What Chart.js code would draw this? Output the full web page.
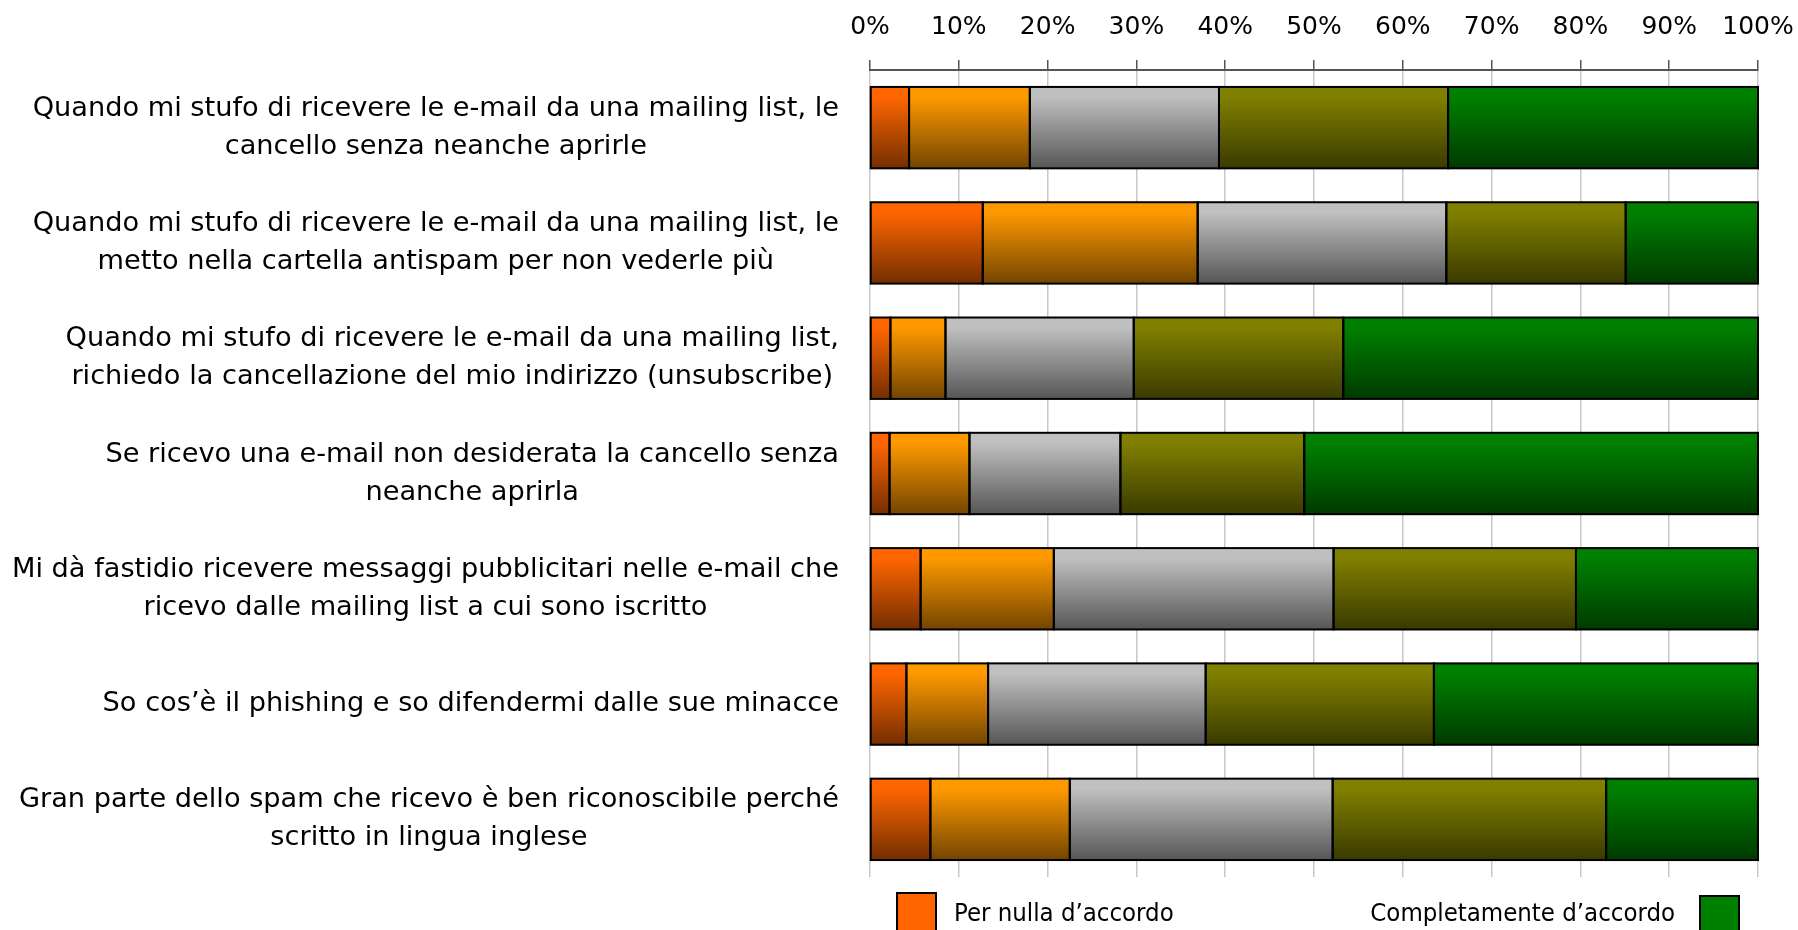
<!DOCTYPE html>
<html>
<head>
<meta charset="utf-8">
<script src="https://cdn.jsdelivr.net/npm/chart.js@4/dist/chart.umd.min.js"></script>
<style>
  html, body { margin: 0; padding: 0; background: #ffffff; }
  canvas { display: block; }
</style>
</head>
<body>
<canvas id="chart" width="1798" height="930"></canvas>
<script>
// Survey statements (one entry per bar, each line of the label as an item)
const categories = [
  ["Quando mi stufo di ricevere le e-mail da una mailing list, le", "cancello senza neanche aprirle"],
  ["Quando mi stufo di ricevere le e-mail da una mailing list, le", "metto nella cartella antispam per non vederle più"],
  ["Quando mi stufo di ricevere le e-mail da una mailing list,", "richiedo la cancellazione del mio indirizzo (unsubscribe)"],
  ["Se ricevo una e-mail non desiderata la cancello senza", "neanche aprirla"],
  ["Mi dà fastidio ricevere messaggi pubblicitari nelle e-mail che", "ricevo dalle mailing list a cui sono iscritto"],
  ["So cos’è il phishing e so difendermi dalle sue minacce"],
  ["Gran parte dello spam che ricevo è ben riconoscibile perché", "scritto in lingua inglese"]
];

// Share of answers (%) on the 1–5 agreement scale
const perNulla      = [4.4, 12.7, 2.3, 2.2, 5.7, 4.1, 6.8];
const livello2      = [13.6, 24.2, 6.2, 9.0, 15.0, 9.2, 15.7];
const livello3      = [21.3, 28.0, 21.2, 17.0, 31.5, 24.5, 29.6];
const livello4      = [25.8, 20.2, 23.6, 20.7, 27.3, 25.7, 30.8];
const completamente = [34.9, 14.9, 46.7, 51.1, 20.5, 36.5, 17.1];

const seriesLabels = ["Per nulla d’accordo", "2", "3", "4", "Completamente d’accordo"];
const seriesColors = ["#FF6600", "#FF9900", "#C0C0C0", "#808000", "#008000"];
const tickValues = [0, 10, 20, 30, 40, 50, 60, 70, 80, 90, 100];

const FONT_WIDE = '"DejaVu Sans", Verdana, sans-serif';
const FONT_NARROW = '"DejaVu Sans Condensed", "DejaVu Sans", sans-serif';
const CAT_PCT = 0.706;

function shade(hex, f) {
  const n = parseInt(hex.slice(1), 16);
  const r = Math.round(((n >> 16) & 255) * f);
  const g = Math.round(((n >> 8) & 255) * f);
  const b = Math.round((n & 255) * f);
  return `rgb(${r},${g},${b})`;
}

// vertical gradient for each bar, from the base colour down to a darker tone
function barGradient(color) {
  return (ctx) => {
    const chart = ctx.chart;
    const y = chart.scales && chart.scales.y;
    if (ctx.type !== 'data' || !y || !chart.chartArea) return color;
    const center = y.getPixelForValue(ctx.dataIndex);
    const half = (y.height / categories.length) * CAT_PCT / 2;
    if (!isFinite(center) || !isFinite(half) || half <= 0) return color;
    const g = chart.ctx.createLinearGradient(0, center - half, 0, center + half);
    g.addColorStop(0, color);
    g.addColorStop(0.12, color);
    g.addColorStop(1, shade(color, 0.45));
    return g;
  };
}

const seriesData = [perNulla, livello2, livello3, livello4, completamente];

// black outline around every bar segment
const barOutline = {
  id: 'barOutline',
  afterDatasetsDraw(chart) {
    const ctx = chart.ctx;
    ctx.save();
    ctx.strokeStyle = '#000';
    ctx.lineWidth = 2;
    chart.data.datasets.forEach((ds, i) => {
      chart.getDatasetMeta(i).data.forEach(el => {
        const { x, y, base, height } = el.getProps(['x', 'y', 'base', 'height'], true);
        const left = Math.min(x, base), w = Math.abs(x - base);
        ctx.strokeRect(left, y - height / 2, w, height);
      });
    });
    ctx.restore();
  }
};

// statement labels: each block right-aligned to the plot, lines centred within it
const statementLabels = {
  id: 'statementLabels',
  afterDraw(chart) {
    const ctx = chart.ctx;
    const y = chart.scales.y;
    const lineH = 38;
    const right = chart.chartArea.left - 31;
    ctx.save();
    ctx.font = `27.2px ${FONT_WIDE}`;
    ctx.fillStyle = '#000';
    ctx.textAlign = 'center';
    ctx.textBaseline = 'middle';
    categories.forEach((lines, i) => {
      const w = Math.max(...lines.map(l => ctx.measureText(l).width));
      const cx = right - w / 2;
      const cy = y.getPixelForValue(i);
      lines.forEach((l, k) => ctx.fillText(l, cx, cy + (k - (lines.length - 1) / 2) * lineH));
    });
    ctx.restore();
  }
};

// legend: first category at the left end, last category at the right end
const endLegend = {
  id: 'endLegend',
  afterDraw(chart) {
    const ctx = chart.ctx;
    const area = chart.chartArea;
    const ds = chart.data.datasets;
    const first = ds[0], last = ds[ds.length - 1];
    const box = 39;
    ctx.save();
    ctx.font = `25.5px ${FONT_NARROW}`;
    ctx.textBaseline = 'middle';
    ctx.lineWidth = 2;
    ctx.strokeStyle = '#000';

    const lx = area.left + 27, ly = area.bottom + 16;
    ctx.fillStyle = first.legendColor;
    ctx.fillRect(lx, ly, box, box);
    ctx.strokeRect(lx, ly, box, box);
    ctx.fillStyle = '#000';
    ctx.textAlign = 'left';
    ctx.fillText(first.label, lx + box + 18, area.bottom + 37);

    const rx = area.right - 19 - box, ry = area.bottom + 19;
    ctx.fillStyle = last.legendColor;
    ctx.fillRect(rx, ry, box, box);
    ctx.strokeRect(rx, ry, box, box);
    ctx.fillStyle = '#000';
    ctx.textAlign = 'right';
    ctx.fillText(last.label, rx - 25, area.bottom + 37);
    ctx.restore();
  }
};

new Chart(document.getElementById('chart'), {
  type: 'bar',
  data: {
    labels: categories,
    datasets: seriesData.map((d, i) => ({
      label: seriesLabels[i],
      data: d,
      legendColor: seriesColors[i],
      backgroundColor: barGradient(seriesColors[i]),
      borderWidth: 0,
      barPercentage: 1,
      categoryPercentage: CAT_PCT
    }))
  },
  options: {
    indexAxis: 'y',
    responsive: false,
    animation: false,
    devicePixelRatio: 1,
    layout: { padding: { left: 0, right: 40, top: 0, bottom: 53 } },
    plugins: { legend: { display: false }, tooltip: { enabled: false } },
    scales: {
      x: {
        position: 'top',
        stacked: true,
        min: 0,
        max: 100,
        afterBuildTicks(scale) { scale.ticks = tickValues.map(v => ({ value: v })); },
        ticks: {
          callback: v => v + '%',
          color: '#000',
          font: { family: FONT_WIDE, size: 25 },
          padding: 18,
          maxRotation: 0,
          autoSkip: false
        },
        grid: { color: '#c8c8c8', lineWidth: 1.5, tickColor: '#555', tickLength: 10, tickWidth: 1.5 },
        border: { color: '#555', width: 2 },
        afterFit(scale) {
          scale.height = 70;
          scale.paddingLeft = 0;
          scale.paddingRight = 0;
        }
      },
      y: {
        stacked: true,
        ticks: { display: false },
        grid: { display: false },
        border: { display: false },
        afterFit(scale) { scale.width = 870; }
      }
    }
  },
  plugins: [barOutline, statementLabels, endLegend]
});
</script>
</body>
</html>
